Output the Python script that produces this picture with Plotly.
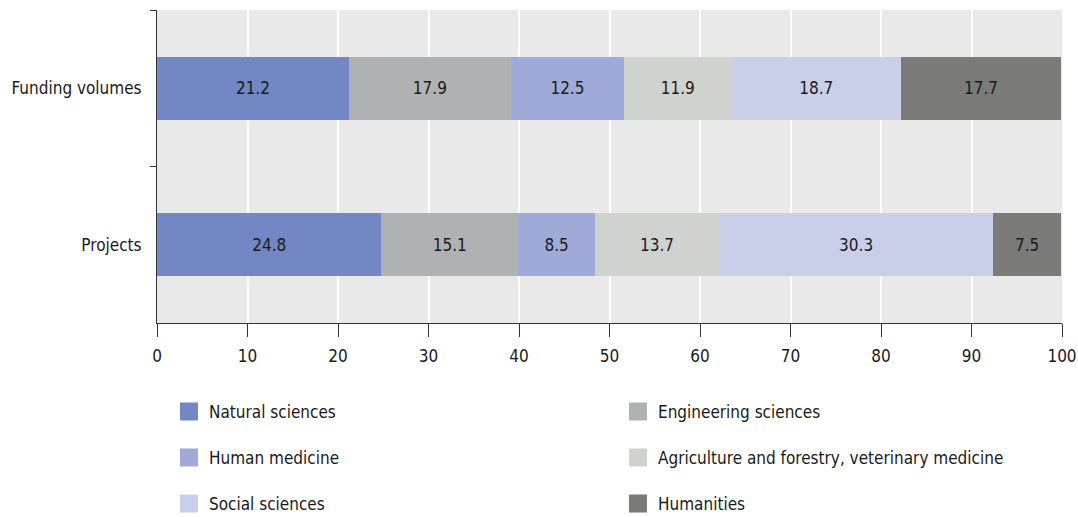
import plotly.graph_objects as go

categories = ["Funding volumes", "Projects"]
fields = ["Natural sciences", "Engineering sciences", "Human medicine",
          "Agriculture and forestry, veterinary medicine", "Social sciences", "Humanities"]
funding_volumes = [21.2, 17.9, 12.5, 11.9, 18.7, 17.7]
projects = [24.8, 15.1, 8.5, 13.7, 30.3, 7.5]
colors = ["#7287c4", "#b0b1b2", "#a0aad8", "#d0d2d0", "#c9cee9", "#7b7b7a"]
x_ticks = [0, 10, 20, 30, 40, 50, 60, 70, 80, 90, 100]

FONT = "DejaVu Sans Condensed, Roboto, sans-serif"
TXT = "#1a1a1a"
FS = 17
W, H = 1078, 517


def f(size=FS):
    return dict(family=FONT, size=size, color=TXT)


fig = go.Figure()
for i, name in enumerate(fields):
    vals = [funding_volumes[i], projects[i]]
    fig.add_trace(go.Bar(
        y=categories, x=vals, orientation="h", name=name,
        marker=dict(color=colors[i], line=dict(width=0)),
        text=[f"{v:.1f}" for v in vals], textposition="inside",
        insidetextanchor="middle", textangle=0,
        textfont=f(),
        showlegend=False, hoverinfo="skip",
    ))

# legend entries (three rows, two columns)
legend_ids = ["legend", "legend", "legend2", "legend2", "legend3", "legend3"]
for i, name in enumerate(fields):
    fig.add_trace(go.Scatter(
        x=[None], y=[None], mode="markers", name=name,
        marker=dict(symbol="square", size=16, color=colors[i],
                    line=dict(color=colors[i], width=2)),
        legend=legend_ids[i], showlegend=True,
    ))

leg_left = 169  # page x of the legend box
leg_common = dict(orientation="h", entrywidth=404, entrywidthmode="pixels",
                  traceorder="normal", borderwidth=0,
                  font=f(), bgcolor="rgba(0,0,0,0)",
                  xref="container", x=leg_left / W, xanchor="left",
                  yref="container", yanchor="middle",
                  itemclick=False, itemdoubleclick=False)
row_y = [412, 458, 504]  # page pixel rows of the legend entries
fig.update_layout(
    legend=dict(leg_common, y=1 - row_y[0] / H),
    legend2=dict(leg_common, y=1 - row_y[1] / H),
    legend3=dict(leg_common, y=1 - row_y[2] / H),
)

fig.update_layout(
    width=W, height=H,
    margin=dict(l=157, r=16, t=10, b=194, autoexpand=False),
    paper_bgcolor="white", plot_bgcolor="#e8e9e8",
    barmode="stack", bargap=0.6,
    font=f(),
    xaxis=dict(range=[0, 100], tickvals=x_ticks, ticks="outside", ticklen=13,
               tickcolor="#333333", tickwidth=1, showline=True, linecolor="#333333",
               linewidth=1, showgrid=True, gridcolor="white", gridwidth=2,
               zeroline=False, tickfont=f(), automargin=False, ticklabelstandoff=5,
               ticklabeloverflow="allow", fixedrange=True),
    yaxis=dict(categoryorder="array", categoryarray=categories, autorange="reversed",
               ticks="outside", tickson="boundaries", ticklen=6, tickcolor="#333333",
               showline=True, linecolor="#333333", linewidth=1, showgrid=False,
               tickfont=f(), ticklabelstandoff=11, automargin=False,
               fixedrange=True),
)

fig.write_html("out.html",
               config={"displayModeBar": False, "staticPlot": False},
               post_script="document.body.style.margin='0';"
                           "document.body.style.overflow='hidden';")
